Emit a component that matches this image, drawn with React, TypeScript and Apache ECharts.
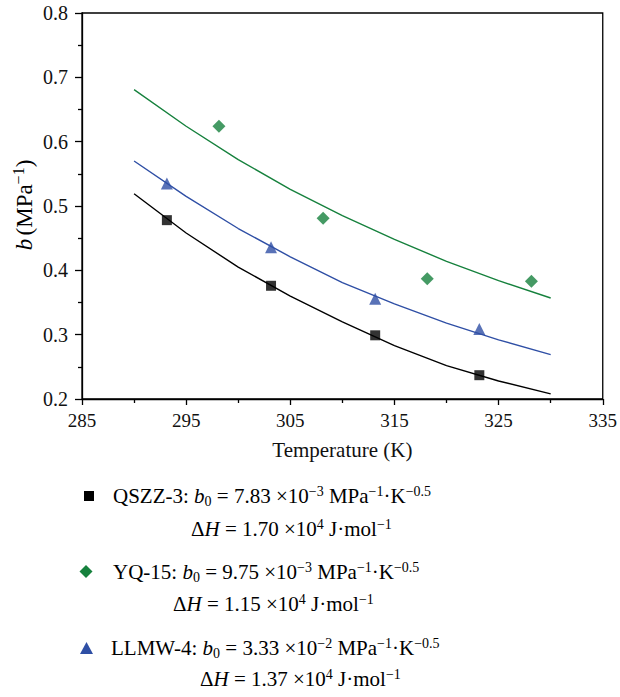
import React, { useEffect, useRef } from "react";
import * as echarts from "echarts";

const pointTempsA = [293.15, 303.15, 313.15, 323.15];
const pointTempsB = [298.15, 308.15, 318.15, 328.15];
const qszzPoints = [0.478, 0.376, 0.299, 0.237];
const yqPoints = [0.624, 0.481, 0.387, 0.383];
const llmwPoints = [0.535, 0.436, 0.356, 0.309];

const fitTemps = [290, 295, 300, 305, 310, 315, 320, 325, 330];
const qszzFit = [0.519, 0.458, 0.405, 0.36, 0.32, 0.283, 0.252, 0.228, 0.208];
const yqFit = [0.681, 0.624, 0.572, 0.526, 0.485, 0.448, 0.414, 0.384, 0.357];
const llmwFit = [0.57, 0.515, 0.465, 0.421, 0.381, 0.348, 0.318, 0.292, 0.269];

const xMajorTicks = [285, 295, 305, 315, 325, 335];
const xMinorTicks = [290, 300, 310, 320, 330];

const BLACK = "#000000";
const GREEN = "#16813d";
const BLUE = "#2f4fa5";
const FONT = "Liberation Serif";

const pairs = (xs: number[], ys: number[]) => xs.map((x, i) => [x, ys[i]]);

const rich = {
  t: { fontFamily: FONT, fontSize: 21, color: "#111" },
  i: { fontFamily: FONT, fontSize: 21, fontStyle: "italic", color: "#111" },
  sub: { fontFamily: FONT, fontSize: 14, color: "#111", padding: [10, 0, 0, 0] },
  sup: { fontFamily: FONT, fontSize: 14, color: "#111", padding: [0, 0, 10, 0] },
};

const titleRich = {
  t: { fontFamily: FONT, fontSize: 23, color: "#111" },
  i: { fontFamily: FONT, fontSize: 23, fontStyle: "italic", color: "#111" },
  sup: { fontFamily: FONT, fontSize: 16, color: "#111", padding: [0, 0, 11, 0] },
};

const legendLines = [
  { x: 113, y: 496, text: "{t|QSZZ-3: }{i|b}{sub|0}{t| = 7.83 ×10}{sup|−3}{t| MPa}{sup|−1}{t|·K}{sup|−0.5}" },
  { x: 191, y: 529, text: "{t|Δ}{i|H}{t| = 1.70 ×10}{sup|4}{t| J·mol}{sup|−1}" },
  { x: 113, y: 572, text: "{t|YQ-15: }{i|b}{sub|0}{t| = 9.75 ×10}{sup|−3}{t| MPa}{sup|−1}{t|·K}{sup|−0.5}" },
  { x: 173, y: 604, text: "{t|Δ}{i|H}{t| = 1.15 ×10}{sup|4}{t| J·mol}{sup|−1}" },
  { x: 111, y: 648, text: "{t|LLMW-4: }{i|b}{sub|0}{t| = 3.33 ×10}{sup|−2}{t| MPa}{sup|−1}{t|·K}{sup|−0.5}" },
  { x: 200, y: 679, text: "{t|Δ}{i|H}{t| = 1.37 ×10}{sup|4}{t| J·mol}{sup|−1}" },
];

export default function App() {
  const ref = useRef<HTMLDivElement>(null);
  useEffect(() => {
    if (!ref.current) return;
    const chart = echarts.init(ref.current, null, { renderer: "svg" });
    const axisLine = { lineStyle: { color: "#000", width: 1.3 } };
    const graphics: any[] = legendLines.map((l) => ({
      type: "text",
      x: l.x,
      y: l.y,
      style: { text: l.text, rich, verticalAlign: "middle", align: "left" },
    }));
    graphics.push(
      {
        type: "text",
        x: 24,
        y: 205,
        rotation: Math.PI / 2,
        style: {
          text: "{i|b} {t|(MPa}{sup|−1}{t|)}",
          rich: titleRich,
          align: "center",
          verticalAlign: "middle",
        },
      },
      { type: "rect", shape: { x: 84, y: 491, width: 10, height: 10 }, style: { fill: BLACK } },
      {
        type: "polygon",
        shape: { points: [[86, 565], [92.5, 571.5], [86, 578], [79.5, 571.5]] },
        style: { fill: GREEN },
      },
      {
        type: "polygon",
        shape: { points: [[86.5, 642], [93, 654], [80, 654]] },
        style: { fill: BLUE },
      }
    );
    chart.setOption({
      animation: false,
      grid: {
        left: 82,
        right: 17,
        top: 13,
        bottom: 298,
        show: true,
        borderColor: "#000",
        borderWidth: 1.3,
        backgroundColor: "transparent",
      },
      xAxis: [
        {
          type: "value",
          min: 285,
          max: 335,
          name: "Temperature (K)",
          nameLocation: "middle",
          nameGap: 40,
          nameTextStyle: { fontFamily: FONT, fontSize: 21, color: "#111" },
          axisLine,
          splitLine: { show: false },
          axisTick: { customValues: xMajorTicks, length: 6, lineStyle: { color: "#000", width: 1.3 } },
          axisLabel: {
            customValues: xMajorTicks,
            margin: 12,
            fontFamily: FONT,
            fontSize: 19,
            color: "#111",
          },
        },
        {
          type: "value",
          min: 285,
          max: 335,
          position: "bottom",
          axisLine: { show: false },
          splitLine: { show: false },
          axisTick: { customValues: xMinorTicks, length: 4, lineStyle: { color: "#000", width: 1.3 } },
          axisLabel: { show: false },
        },
      ],
      yAxis: {
        type: "value",
        min: 0.2,
        max: 0.8,
        interval: 0.1,
        axisLine,
        splitLine: { show: false },
        axisTick: { length: 7, lineStyle: { color: "#000", width: 1.3 } },
        minorTick: { show: true, splitNumber: 2, length: 4, lineStyle: { color: "#000", width: 1.3 } },
        axisLabel: {
          margin: 14,
          fontFamily: FONT,
          fontSize: 20,
          color: "#111",
          formatter: (v: number) => v.toFixed(1),
        },
      },
      series: [
        {
          name: "QSZZ-3 fit",
          type: "line",
          data: pairs(fitTemps, qszzFit),
          symbol: "none",
          lineStyle: { color: BLACK, width: 1.4 },
        },
        {
          name: "YQ-15 fit",
          type: "line",
          data: pairs(fitTemps, yqFit),
          symbol: "none",
          lineStyle: { color: GREEN, width: 1.4 },
        },
        {
          name: "LLMW-4 fit",
          type: "line",
          data: pairs(fitTemps, llmwFit),
          symbol: "none",
          lineStyle: { color: BLUE, width: 1.4 },
        },
        {
          name: "QSZZ-3",
          type: "scatter",
          data: pairs(pointTempsA, qszzPoints),
          symbol: "rect",
          symbolSize: 10,
          itemStyle: { color: BLACK },
        },
        {
          name: "YQ-15",
          type: "scatter",
          data: pairs(pointTempsB, yqPoints),
          symbol: "diamond",
          symbolSize: 13,
          itemStyle: { color: GREEN },
        },
        {
          name: "LLMW-4",
          type: "scatter",
          data: pairs(pointTempsA, llmwPoints),
          symbol: "triangle",
          symbolSize: 12,
          itemStyle: { color: BLUE },
        },
      ],
      graphic: graphics,
    });
    return () => chart.dispose();
  }, []);
  return (
    <div
      ref={ref}
      style={{ position: "fixed", left: 0, top: 0, width: 620, height: 697, background: "#fff" }}
    />
  );
}
